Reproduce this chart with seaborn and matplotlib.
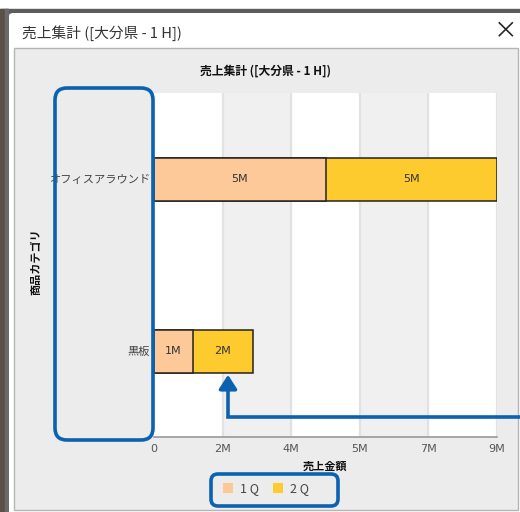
import matplotlib
matplotlib.use('Agg')
import matplotlib.pyplot as plt
import seaborn as sns
import numpy as np
import pandas as pd
from matplotlib.patches import Rectangle, FancyBboxPatch, Patch

# data
categories = ['オフィスアラウンド', '黒板']
sales_1q = [4.50e6, 1.02e6]
sales_2q = [4.50e6, 1.57e6]
series_names = ['1 Q', '2 Q']
series_colors = ['#fdc998', '#fecb2f']
tick_step = 1.8e6
x_max = 9.0e6

sns.set_theme(style='white')
plt.rcParams['font.family'] = ['Noto Sans CJK JP', 'DejaVu Sans']
num_font = ['DejaVu Sans']

W, H = 520, 512
fig = plt.figure(figsize=(W / 100, H / 100), dpi=100)
fig.patch.set_facecolor('white')

# background "dialog" layer drawn in pixel coords
bg = fig.add_axes([0, 0, 1, 1], zorder=-5)
bg.set_xlim(0, W)
bg.set_ylim(H, 0)
bg.axis('off')
bg.add_patch(Rectangle((0, 9), W, 4, color='#5c5c5c'))
bg.add_patch(Rectangle((0, 9), 8, H, color='#5a5046'))
bg.add_patch(Rectangle((5, 9), 3, H, color='#6a6a6a'))
bg.add_patch(FancyBboxPatch((9, 13), W, H, boxstyle='round,pad=0,rounding_size=4',
                            facecolor='white', edgecolor='none'))
bg.add_patch(Rectangle((14, 48), 504, 462, facecolor='#ececec', edgecolor='#b4b4b4', lw=1))
bg.text(22, 33, '売上集計 ([大分県 - 1 H])', fontsize=10.6, color='#333333', va='center')
bg.text(506, 32, '×', fontsize=17, color='#222222', va='center', ha='center')

# main chart
df = pd.DataFrame({'category': categories, 'q1': sales_1q, 'q2': sales_2q})
df['total'] = df['q1'] + df['q2']

ax = fig.add_axes([154 / W, 1 - 437 / H, 343 / W, 344 / H])
ax.set_facecolor('white')

ticks = np.arange(0, x_max + 1, tick_step)
for i in range(len(ticks) - 1):
    if i % 2 == 1:
        ax.axvspan(ticks[i], ticks[i + 1], color='#f0f0f0', zorder=0)
for t in ticks[1:]:
    ax.axvline(t, color='#e2e2e2', lw=1.6, zorder=0.5)

sns.barplot(data=df, y='category', x='total', color=series_colors[1], orient='h',
            width=0.25, edgecolor='#222222', linewidth=1.1, saturation=1, ax=ax, zorder=2)
sns.barplot(data=df, y='category', x='q1', color=series_colors[0], orient='h',
            width=0.25, edgecolor='#222222', linewidth=1.1, saturation=1, ax=ax, zorder=3)


def fmt_m(v):
    return '0' if v == 0 else f'{int(v / 1e6 + 0.5)}M'


for i, row in df.iterrows():
    ax.text(row['q1'] / 2, i, fmt_m(row['q1']), ha='center', va='center',
            fontsize=8, family=num_font, color='#333333', zorder=5)
    ax.text(row['q1'] + row['q2'] / 2, i, fmt_m(row['q2']), ha='center', va='center',
            fontsize=8, family=num_font, color='#333333', zorder=5)

ax.set_xlim(0, x_max)
ax.set_ylim(1.5, -0.5)
ax.set_xticks(ticks)
ax.set_xticklabels([fmt_m(t) for t in ticks], fontsize=8, color='#555555', family=num_font)
ax.tick_params(axis='x', length=0, pad=5)
ax.tick_params(axis='y', length=0, pad=3, labelsize=8.1, labelcolor='#444444')
ax.set_xlabel('')
ax.set_ylabel('')
for s in ['top', 'right', 'left']:
    ax.spines[s].set_visible(False)
ax.spines['bottom'].set_color('#999999')
ax.spines['bottom'].set_linewidth(1.2)

fig.text(325 / W, 1 - 466 / H, '売上金額', fontsize=8, fontweight='bold',
         ha='center', va='center', color='#111111')
fig.text(36 / W, 1 - 262 / H, '商品カテゴリ', fontsize=8, fontweight='bold',
         rotation=90, ha='center', va='center', color='#111111')
fig.text(265 / W, 1 - 71 / H, '売上集計 ([大分県 - 1 H])', fontsize=8.5, fontweight='bold',
         ha='center', va='center', color='#111111')

handles = [Patch(facecolor=c, edgecolor='none') for c in series_colors]
fig.legend(handles, series_names, loc='center', bbox_to_anchor=(266 / W, 1 - 489 / H),
           ncol=2, frameon=False, fontsize=9, handlelength=0.8, handleheight=0.8,
           handletextpad=0.6, columnspacing=1.1, labelcolor='#444444')

# blue highlight annotations on top
ov = fig.add_axes([0, 0, 1, 1], zorder=10)
ov.set_xlim(0, W)
ov.set_ylim(H, 0)
ov.axis('off')
ov.patch.set_alpha(0)
blue = '#0b62b0'
ov.add_patch(FancyBboxPatch((55, 88), 98, 352, boxstyle='round,pad=0,rounding_size=12',
                            facecolor='none', edgecolor=blue, lw=2.6))
ov.add_patch(FancyBboxPatch((211, 474), 127, 32, boxstyle='round,pad=0,rounding_size=7',
                            facecolor='none', edgecolor=blue, lw=2.6))
ov.plot([W, 228, 228], [417, 417, 384], color=blue, lw=2.6, solid_joinstyle='miter')
ov.annotate('', xy=(228, 372), xytext=(228, 386),
            arrowprops=dict(arrowstyle='-|>,head_width=0.45,head_length=0.7',
                            color=blue, lw=2.6))

fig.savefig('out.png', dpi=100)
